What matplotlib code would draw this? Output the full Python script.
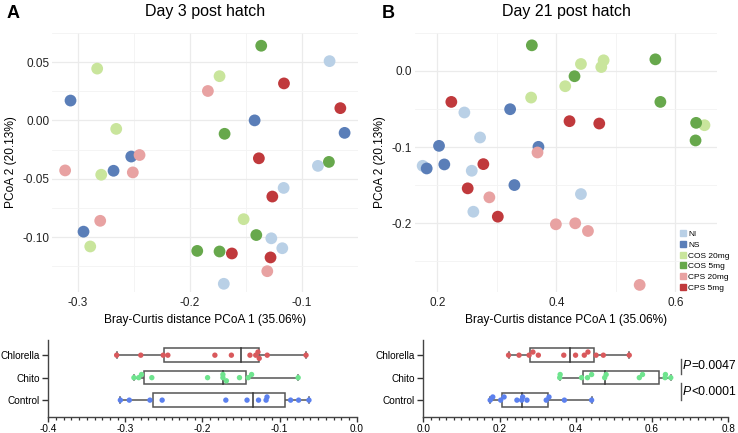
import matplotlib
matplotlib.use("Agg")
import matplotlib.pyplot as plt
import numpy as np
from matplotlib.lines import Line2D
from matplotlib.ticker import MultipleLocator

plt.rcParams['font.family'] = ['Liberation Sans', 'DejaVu Sans']

groups = ['NI', 'NS', 'COS 20mg', 'COS 5mg', 'CPS 20mg', 'CPS 5mg']
group_colors = ['#b9d0e6', '#5a7eb8', '#c9e59c', '#67a84c', '#e8a2a2', '#c0393c']

# Day 3 PCoA coordinates (PC1, PC2) per group
d3_pc1 = {
    'NI': [-0.0753, -0.0857, -0.1163, -0.1273, -0.1175, -0.1697],
    'NS': [-0.3065, -0.1422, -0.0619, -0.2523, -0.2681, -0.2949],
    'COS 20mg': [-0.2827, -0.1735, -0.2657, -0.2791, -0.1520, -0.2889],
    'COS 5mg': [-0.1363, -0.1690, -0.0759, -0.1407, -0.1934, -0.1735],
    'CPS 20mg': [-0.1839, -0.2449, -0.3113, -0.2509, -0.2800, -0.1309],
    'CPS 5mg': [-0.1160, -0.0657, -0.1384, -0.1264, -0.1625, -0.1280],
}
d3_pc2 = {
    'NI': [0.0508, -0.0390, -0.0579, -0.1011, -0.1096, -0.1401],
    'NS': [0.0170, 0.0000, -0.0107, -0.0310, -0.0432, -0.0954],
    'COS 20mg': [0.0444, 0.0379, -0.0073, -0.0466, -0.0847, -0.1081],
    'COS 5mg': [0.0640, -0.0115, -0.0356, -0.0983, -0.1119, -0.1124],
    'CPS 20mg': [0.0252, -0.0297, -0.0429, -0.0446, -0.0861, -0.1293],
    'CPS 5mg': [0.0317, 0.0105, -0.0325, -0.0653, -0.1141, -0.1175],
}

# Day 21 PCoA coordinates
d21_pc1 = {
    'NI': [0.2455, 0.2719, 0.1754, 0.2579, 0.4414, 0.2606],
    'NS': [0.3224, 0.2029, 0.3700, 0.1822, 0.2118, 0.3296],
    'COS 20mg': [0.4795, 0.4414, 0.4756, 0.4150, 0.3577, 0.6490],
    'COS 5mg': [0.3589, 0.5665, 0.4306, 0.5749, 0.6350, 0.6340],
    'CPS 20mg': [0.3684, 0.2875, 0.3993, 0.4318, 0.4532, 0.5401],
    'CPS 5mg': [0.2236, 0.4222, 0.4722, 0.2774, 0.2511, 0.3017],
}
d21_pc2 = {
    'NI': [-0.0545, -0.0873, -0.1245, -0.1310, -0.1616, -0.1848],
    'NS': [-0.0502, -0.0983, -0.0996, -0.1280, -0.1227, -0.1498],
    'COS 20mg': [0.0140, 0.0092, 0.0052, -0.0200, -0.0349, -0.0712],
    'COS 5mg': [0.0337, 0.0153, -0.0069, -0.0406, -0.0681, -0.0912],
    'CPS 20mg': [-0.1070, -0.1659, -0.2013, -0.2000, -0.2101, -0.2809],
    'CPS 5mg': [-0.0406, -0.0659, -0.0690, -0.1223, -0.1541, -0.1913],
}

box_cats = ['Control', 'Chito', 'Chlorella']
box_members = {'Control': ['NI', 'NS'], 'Chito': ['COS 20mg', 'COS 5mg'],
               'Chlorella': ['CPS 20mg', 'CPS 5mg']}
box_colors = {'Control': '#5b80ee', 'Chito': '#6ee48e', 'Chlorella': '#d9595c'}

p_labels = ['=0.0047', '<0.0001']

fig = plt.figure(figsize=(7.38, 4.33), dpi=100)


def scatter_panel(rect, pc1, pc2, title, letter, letter_x, xlim, ylim, xmaj, ymaj, fmt_y):
    ax = fig.add_axes(rect)
    for g, c in zip(groups, group_colors):
        ax.scatter(pc1[g], pc2[g], s=72, color=c, edgecolors='none', zorder=3)
    ax.set_xlim(*xlim)
    ax.set_ylim(*ylim)
    ax.xaxis.set_major_locator(MultipleLocator(xmaj))
    ax.xaxis.set_minor_locator(MultipleLocator(xmaj / 2))
    ax.yaxis.set_major_locator(MultipleLocator(ymaj))
    ax.yaxis.set_minor_locator(MultipleLocator(ymaj / 2))
    ax.yaxis.set_major_formatter(fmt_y)
    ax.grid(which='major', color='#ebebeb', lw=0.9)
    ax.grid(which='minor', color='#f3f3f3', lw=0.6)
    ax.set_axisbelow(True)
    for s in ax.spines.values():
        s.set_visible(False)
    ax.tick_params(which='both', length=0, labelsize=8.5, colors='#222222')
    ax.tick_params(axis='x', pad=4)
    ax.tick_params(axis='y', pad=2)
    ax.set_xlabel('Bray-Curtis distance PCoA 1 (35.06%)', fontsize=8.6, labelpad=3)
    ax.set_ylabel('PCoA 2 (20.13%)', fontsize=8.6, labelpad=4)
    ax.set_title(title, fontsize=11.5, pad=12)
    fig.text(letter_x, 0.968, letter, fontsize=13, fontweight='bold', va='center')
    return ax


def swarm(values, thresh):
    order = np.argsort(values)
    placed = []
    offs = np.zeros(len(values))
    cands = [0, 0.14, -0.14, 0.28, -0.28]
    for i in order:
        v = values[i]
        for o in cands:
            if all(abs(v - pv) > thresh or abs(o - po) > 0.01 for pv, po in placed):
                offs[i] = o
                placed.append((v, o))
                break
    return offs


def box_panel(rect, pc1, xlim, xmaj, xminor, thresh, fmt):
    ax = fig.add_axes(rect)
    for k, cat in enumerate(box_cats):
        vals = np.concatenate([pc1[g] for g in box_members[cat]])
        q1, med, q3 = np.percentile(vals, [25, 50, 75], method='weibull')
        lo, hi = vals.min(), vals.max()
        h = 0.3
        ax.add_patch(plt.Rectangle((q1, k - h), q3 - q1, 2 * h, facecolor='white',
                                   edgecolor='#555555', lw=1.1, zorder=2))
        ax.plot([med, med], [k - h, k + h], color='#333333', lw=1.1, zorder=3)
        ax.plot([lo, q1], [k, k], color='#555555', lw=1.1, zorder=1)
        ax.plot([q3, hi], [k, k], color='#555555', lw=1.1, zorder=1)
        ax.plot([lo, lo], [k - 0.12, k + 0.12], color='#555555', lw=1.1, zorder=1)
        ax.plot([hi, hi], [k - 0.12, k + 0.12], color='#555555', lw=1.1, zorder=1)
        offs = swarm(vals, thresh)
        ax.scatter(vals, k + offs, s=15, color=box_colors[cat], edgecolors='none', zorder=4)
    ax.set_xlim(*xlim)
    ax.set_ylim(-0.75, 2.68)
    ax.set_yticks(range(len(box_cats)))
    ax.set_yticklabels(box_cats, fontsize=7.2)
    ax.xaxis.set_major_locator(MultipleLocator(xmaj))
    ax.xaxis.set_minor_locator(MultipleLocator(xminor))
    ax.xaxis.set_major_formatter(fmt)
    ax.tick_params(axis='x', labelsize=7.2, length=3.5, width=1, colors='#333333', pad=1.5)
    ax.tick_params(axis='x', which='minor', length=2, width=0.9, colors='#333333')
    ax.tick_params(axis='y', length=4, width=1, colors='#333333', pad=2)
    for lab in ax.get_xticklabels() + ax.get_yticklabels():
        lab.set_color('black')
    ax.spines['top'].set_visible(False)
    ax.spines['right'].set_visible(False)
    for s in ('left', 'bottom'):
        ax.spines[s].set_color('#444444')
        ax.spines[s].set_linewidth(1)
    return ax


axA = scatter_panel([0.0705, 0.326, 0.4145, 0.598], d3_pc1, d3_pc2, 'Day 3 post hatch', 'A', 0.009,
                    (-0.323, -0.05), (-0.147, 0.075), 0.1, 0.05,
                    plt.FuncFormatter(lambda v, p: f'{v:.2f}'))
axA.xaxis.set_major_formatter(plt.FuncFormatter(lambda v, p: f'{v:.1f}'))

axB = scatter_panel([0.5623, 0.326, 0.4092, 0.598], d21_pc1, d21_pc2, 'Day 21 post hatch', 'B', 0.517,
                    (0.1625, 0.67), (-0.29, 0.05), 0.2, 0.1,
                    plt.FuncFormatter(lambda v, p: f'{v:.1f}'))
axB.xaxis.set_major_formatter(plt.FuncFormatter(lambda v, p: f'{v:.1f}'))
axB.xaxis.set_minor_locator(MultipleLocator(0.1))

handles = [Line2D([], [], marker='s', ls='none', color=c, markersize=4) for c in group_colors]
axB.legend(handles, groups, loc='lower left', bbox_to_anchor=(0.86, -0.02), frameon=False,
           fontsize=6, handletextpad=0.2, labelspacing=0.36, borderaxespad=0.2,
           handlelength=0.8)

bxA = box_panel([0.0654, 0.037, 0.4179, 0.178], d3_pc1, (-0.4, 0.0), 0.1, 0.01, 0.006,
                plt.FuncFormatter(lambda v, p: f'{v:.1f}'))
bxB = box_panel([0.5736, 0.037, 0.4133, 0.178], d21_pc1, (0.0, 0.8), 0.2, 0.02, 0.012,
                plt.FuncFormatter(lambda v, p: f'{v:.1f}'))

# significance annotations
for (y0, y1), ytxt, lab in zip([(1.15, 1.85), (0.0, 0.75)], [1.5, 0.37], p_labels):
    bxB.plot([0.675, 0.675], [y0, y1], color='#555555', lw=1, clip_on=False)
    t = bxB.text(0.681, ytxt, 'P', fontsize=8.8, style='italic', va='center', ha='left')
    bxB.annotate(lab, xy=(1, 0.5), xycoords=t, fontsize=8.8, va='center', ha='left')

fig.savefig('out.png', dpi=100)
